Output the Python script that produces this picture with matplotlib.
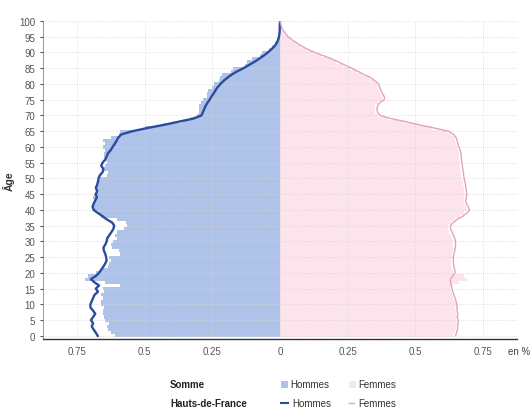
import numpy as np
import matplotlib
matplotlib.use('Agg')
import matplotlib.pyplot as plt
from matplotlib.patches import Rectangle
from matplotlib.lines import Line2D

plt.rcParams['font.family'] = ['Liberation Sans', 'DejaVu Sans']

# ages 0..100, share of total population (%)
ages = list(range(0, 101))

# Somme - Hommes (bars)
somme_h = [0.61, 0.625, 0.635, 0.64, 0.63, 0.645, 0.65, 0.652, 0.655, 0.648,
           0.66, 0.662, 0.655, 0.66, 0.65, 0.655, 0.59, 0.645, 0.72, 0.71,
           0.68, 0.66, 0.635, 0.63, 0.625, 0.63, 0.59, 0.595, 0.62, 0.625,
           0.615, 0.6, 0.61, 0.6, 0.575, 0.565, 0.57, 0.6, 0.66, 0.67,
           0.685, 0.69, 0.692, 0.685, 0.69, 0.688, 0.68, 0.682, 0.675, 0.67,
           0.665, 0.64, 0.635, 0.65, 0.645, 0.64, 0.645, 0.648, 0.65, 0.645,
           0.655, 0.645, 0.655, 0.625, 0.595, 0.59, 0.5, 0.43, 0.36, 0.33,
           0.305, 0.3, 0.298, 0.3, 0.29, 0.285, 0.27, 0.268, 0.265, 0.25,
           0.245, 0.225, 0.22, 0.215, 0.18, 0.175, 0.13, 0.12, 0.105, 0.075,
           0.065, 0.04, 0.03, 0.02, 0.012, 0.008, 0.005, 0.003, 0.002, 0.001,
           0.001]

# Somme - Femmes (bars)
somme_f = [0.64, 0.645, 0.65, 0.65, 0.655, 0.65, 0.652, 0.65, 0.648, 0.645,
           0.648, 0.645, 0.64, 0.635, 0.63, 0.628, 0.64, 0.66, 0.69, 0.68,
           0.64, 0.635, 0.632, 0.63, 0.632, 0.635, 0.635, 0.638, 0.64, 0.64,
           0.64, 0.635, 0.63, 0.625, 0.62, 0.62, 0.63, 0.645, 0.665, 0.68,
           0.69, 0.685, 0.68, 0.678, 0.68, 0.682, 0.68, 0.678, 0.676, 0.675,
           0.672, 0.67, 0.668, 0.666, 0.665, 0.664, 0.662, 0.66, 0.66, 0.656,
           0.652, 0.65, 0.646, 0.642, 0.632, 0.615, 0.56, 0.505, 0.455, 0.4,
           0.362, 0.352, 0.35, 0.352, 0.36, 0.378, 0.378, 0.37, 0.365, 0.36,
           0.358, 0.342, 0.328, 0.302, 0.28, 0.258, 0.232, 0.208, 0.183, 0.153,
           0.122, 0.098, 0.075, 0.058, 0.042, 0.028, 0.018, 0.01, 0.005, 0.002,
           0.001]

# Hauts-de-France - Hommes (line)
hdf_h = [0.673, 0.68, 0.688, 0.695, 0.69, 0.698, 0.69, 0.682, 0.69, 0.70,
         0.70, 0.695, 0.69, 0.685, 0.672, 0.68, 0.668, 0.685, 0.698, 0.68,
         0.668, 0.66, 0.652, 0.645, 0.64, 0.642, 0.645, 0.65, 0.652, 0.645,
         0.64, 0.638, 0.63, 0.622, 0.615, 0.612, 0.62, 0.64, 0.655, 0.672,
         0.688, 0.692, 0.688, 0.682, 0.676, 0.68, 0.675, 0.68, 0.675, 0.672,
         0.67, 0.665, 0.655, 0.652, 0.66, 0.655, 0.645, 0.64, 0.635, 0.625,
         0.618, 0.61, 0.603, 0.597, 0.585, 0.545, 0.49, 0.43, 0.375, 0.32,
         0.29, 0.285, 0.28, 0.275, 0.268, 0.26, 0.253, 0.245, 0.238, 0.23,
         0.22, 0.208, 0.194, 0.178, 0.158, 0.135, 0.115, 0.095, 0.077, 0.06,
         0.045, 0.032, 0.02, 0.012, 0.007, 0.004, 0.002, 0.001, 0.001, 0.0005,
         0.0]

# Hauts-de-France - Femmes (line)
hdf_f = [0.648, 0.652, 0.655, 0.656, 0.658, 0.657, 0.655, 0.656, 0.654, 0.653,
         0.653, 0.65, 0.646, 0.642, 0.638, 0.635, 0.632, 0.63, 0.629, 0.638,
         0.646, 0.645, 0.642, 0.64, 0.64, 0.64, 0.642, 0.645, 0.647, 0.648,
         0.648, 0.645, 0.64, 0.635, 0.63, 0.629, 0.64, 0.655, 0.675, 0.69,
         0.70, 0.695, 0.688, 0.685, 0.688, 0.69, 0.688, 0.686, 0.685, 0.682,
         0.68, 0.678, 0.677, 0.675, 0.673, 0.672, 0.67, 0.669, 0.668, 0.665,
         0.66, 0.657, 0.654, 0.65, 0.64, 0.623, 0.57, 0.515, 0.465, 0.41,
         0.37, 0.36, 0.358, 0.36, 0.368, 0.385, 0.385, 0.378, 0.372, 0.368,
         0.365, 0.35, 0.335, 0.31, 0.288, 0.265, 0.24, 0.215, 0.19, 0.16,
         0.128, 0.103, 0.08, 0.062, 0.045, 0.03, 0.02, 0.012, 0.006, 0.003,
         0.0]

xticks = [-0.75, -0.5, -0.25, 0, 0.25, 0.5, 0.75]
xtick_labels = ['0.75', '0.5', '0.25', '0', '0.25', '0.5', '0.75']

blue_bar = '#afc3e8'
pink_bar = '#fce3ec'
blue_line = '#2b4c9e'
pink_line = '#e3a3bf'

fig = plt.figure(figsize=(5.3, 4.1), dpi=100)
ax = fig.add_axes([43 / 530, 1 - 340 / 410, 474 / 530, 318 / 410])

ages_arr = np.array(ages)
ax.barh(ages_arr, -np.array(somme_h), height=1.0, color=blue_bar, linewidth=0, zorder=1)
ax.barh(ages_arr, np.array(somme_f), height=1.0, color=pink_bar, linewidth=0, zorder=1)
ax.plot(-np.array(hdf_h), ages_arr, color=blue_line, lw=1.7, zorder=3)
ax.plot(np.array(hdf_f), ages_arr, color=pink_line, lw=1.0, zorder=3)

ax.set_xlim(-0.875, 0.875)
ax.set_ylim(-1, 100)
ax.set_yticks(range(0, 101, 5))
ax.set_xticks(xticks)
ax.set_xticklabels(xtick_labels)
ax.tick_params(axis='both', labelsize=7, colors='#555555', length=2)
ax.tick_params(axis='x', length=0, pad=5)
ax.grid(True, linestyle=':', color='#d6d6d6', linewidth=0.6, zorder=2)
ax.set_axisbelow(False)

for s in ['top', 'right']:
    ax.spines[s].set_visible(False)
ax.spines['left'].set_color('#888888')
ax.spines['left'].set_linewidth(0.6)
ax.spines['bottom'].set_color('#333333')
ax.spines['bottom'].set_linewidth(1.0)

ax.set_ylabel('Âge', fontsize=7.5, fontweight='bold', color='#333333', labelpad=3)
fig.text(508 / 530, 1 - 352 / 410, 'en %', fontsize=7, color='#444444', va='center')

# legend built by hand
y1 = 1 - 385 / 410
y2 = 1 - 404 / 410
fig.text(170 / 530, y1, 'Somme', fontsize=7, fontweight='bold', color='#222222', va='center')
fig.text(170 / 530, y2, 'Hauts-de-France', fontsize=7, fontweight='bold', color='#222222', va='center')
fig.add_artist(Rectangle((281 / 530, y1 - 3.5 / 410), 7 / 530, 7 / 410, transform=fig.transFigure,
                         color=blue_bar, lw=0))
fig.text(290 / 530, y1, 'Hommes', fontsize=7, color='#333333', va='center')
fig.add_artist(Rectangle((349 / 530, y1 - 3.5 / 410), 7 / 530, 7 / 410, transform=fig.transFigure,
                         color=pink_bar, lw=0))
fig.text(358 / 530, y1, 'Femmes', fontsize=7, color='#333333', va='center')
fig.add_artist(Line2D([281 / 530, 288 / 530], [y2, y2], transform=fig.transFigure,
                      color=blue_line, lw=1.5))
fig.text(292 / 530, y2, 'Hommes', fontsize=7, color='#333333', va='center')
fig.add_artist(Line2D([349 / 530, 354 / 530], [y2, y2], transform=fig.transFigure,
                      color=pink_line, lw=1.0))
fig.text(358 / 530, y2, 'Femmes', fontsize=7, color='#333333', va='center')

fig.savefig('out.png', dpi=100)
